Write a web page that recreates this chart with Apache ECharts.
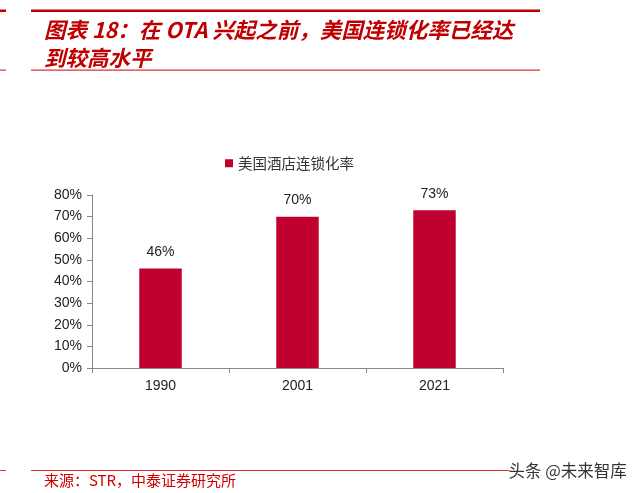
<!DOCTYPE html>
<html><head><meta charset="utf-8">
<script src="https://cdn.jsdelivr.net/npm/echarts@6/dist/echarts.min.js"></script>
<style>html,body{margin:0;padding:0;background:#fff}#c{width:640px;height:493px}</style>
</head><body><div id="c"></div>
<script>
const categories = ['1990', '2001', '2021'];
const values = [46, 70, 73];
const seriesName = '美国酒店连锁化率';
const yTicks = [0, 10, 20, 30, 40, 50, 60, 70, 80];

const chart = echarts.init(document.getElementById('c'));
const red = '#C0002F';
const cjk = '"Noto Sans CJK SC", "Noto Sans", sans-serif';
const latin = 'Arial, "Liberation Sans", sans-serif';
chart.setOption({
  animation: false,
  backgroundColor: '#fff',
  title: {
    text: '图表 18：在 OTA 兴起之前，美国连锁化率已经达\n到较高水平',
    left: 39, top: 11,
    textStyle: { color: '#C00000', fontSize: 21.5, fontStyle: 'italic', fontWeight: 'bold', fontFamily: cjk, lineHeight: 28 }
  },
  legend: {
    data: [seriesName], left: 220, top: 151,
    itemWidth: 8, itemHeight: 8, itemGap: 4,
    icon: 'rect',
    textStyle: { fontSize: 14.5, color: '#333', fontFamily: cjk }
  },
  grid: { left: 92, right: 137, top: 195, bottom: 125 },
  xAxis: {
    type: 'category', data: categories,
    axisLine: { lineStyle: { color: '#888', width: 1 } },
    axisTick: { show: true, length: 5, lineStyle: { color: '#888' } },
    axisLabel: { fontSize: 14, color: '#222', margin: 11, fontFamily: latin }
  },
  yAxis: {
    type: 'value', min: 0, max: 80, interval: 10,
    axisLine: { show: true, lineStyle: { color: '#888' } },
    axisTick: { show: true, length: 5, inside: false, lineStyle: { color: '#888' } },
    splitLine: { show: false },
    axisLabel: { fontSize: 14, color: '#222', margin: 10, formatter: v => v + '%', fontFamily: latin }
  },
  series: [{
    name: seriesName, type: 'bar', data: values,
    barWidth: '31%',
    itemStyle: { color: red },
    label: { show: true, position: 'top', distance: 9, fontSize: 14, color: '#222', formatter: p => Math.round(p.value) + '%', fontFamily: latin }
  }],
  graphic: [
    { type: 'rect', shape: { x: 31, y: 9.5, width: 509, height: 2.5 }, style: { fill: '#C00000' } },
    { type: 'rect', shape: { x: 0, y: 9.5, width: 6, height: 2.5 }, style: { fill: '#C00000' } },
    { type: 'rect', shape: { x: 31, y: 69.5, width: 509, height: 1.2 }, style: { fill: '#D33' } },
    { type: 'rect', shape: { x: 0, y: 69.5, width: 6, height: 1.2 }, style: { fill: '#D33' } },
    { type: 'rect', shape: { x: 31, y: 470, width: 480, height: 1 }, style: { fill: '#E03030' } },
    { type: 'rect', shape: { x: 0, y: 470, width: 6, height: 1 }, style: { fill: '#E03030' } },
    { type: 'text', left: 44, top: 473, style: { text: '来源：STR，中泰证券研究所', fill: '#D00000', fontSize: 15, fontFamily: cjk } },
    { type: 'text', left: 508, top: 462, style: { text: '头条 @未来智库', fill: '#333', fontSize: 16.5, fontFamily: cjk, stroke: '#fff', lineWidth: 1 } }
  ]
});
</script></body></html>
